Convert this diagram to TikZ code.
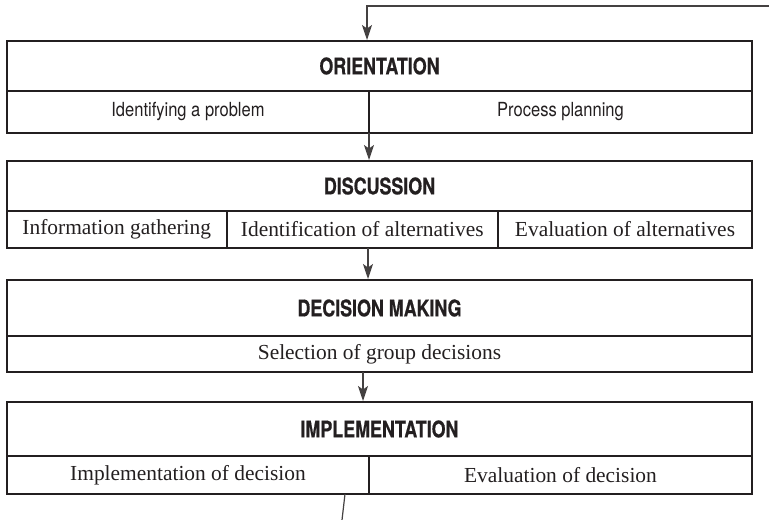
\documentclass[tikz,border=0pt]{standalone}
\usepackage{fontspec}
\setmainfont{Liberation Serif}
\newfontfamily\condsans{TeX Gyre Heros}[FakeStretch=0.78,BoldFeatures={FakeBold=0.6}]
\newfontfamily\narrowsans{TeX Gyre Heros}[FakeStretch=0.85]
\usetikzlibrary{arrows.meta}
\definecolor{ink}{HTML}{231F20}

\begin{document}
\begin{tikzpicture}[x=1bp,y=-1bp,
  box/.style={draw=ink,line width=2bp,inner sep=0pt,outer sep=0pt,text=ink},
  head/.style={box,minimum width=745bp,font=\condsans\bfseries\fontsize{23}{26}\selectfont},
  subsans/.style={box,font=\narrowsans\fontsize{19.5}{22}\selectfont},
  subserif/.style={box,font=\fontsize{21.5}{24}\selectfont},
  flow/.style={draw=ink!85,line width=1.2bp,shorten >=1bp,-{Stealth[length=15bp,width=10bp,inset=3.5bp]}},
  link/.style={draw=ink!85,line width=1.2bp}]
\useasboundingbox (0,0) rectangle (769,520);
% orientation
\node[head,minimum height=50bp] (orient) at (379.5,66) {ORIENTATION};
\node[subsans,minimum width=362bp,minimum height=42bp] (orientA) at (188,112) {Identifying a problem};
\node[subsans,minimum width=383bp,minimum height=42bp] (orientB) at (560.5,112) {Process planning};
% discussion
\node[head,minimum height=50bp] (disc) at (379.5,186) {DISCUSSION};
\node[subserif,minimum width=219.5bp,minimum height=37bp] (discA) at (116.75,229.5) {Information gathering};
\node[subserif,minimum width=271.5bp,minimum height=37bp] (discB) at (362.25,229.5) {Identification of alternatives};
\node[subserif,minimum width=254bp,minimum height=37bp] (discC) at (625,229.5) {Evaluation of alternatives};
% decision making
\node[head,minimum height=56bp] (dec) at (379.5,308) {DECISION MAKING};
\node[subserif,minimum width=745bp,minimum height=36bp] (decA) at (379.5,354) {Selection of group decisions};
% implementation
\node[head,minimum height=54bp] (imp) at (379.5,429) {IMPLEMENTATION};
\node[subserif,minimum width=362bp,minimum height=38bp] (impA) at (188,475) {Implementation of decision};
\node[subserif,minimum width=383bp,minimum height=38bp] (impB) at (560.5,475) {Evaluation of decision};
% arrows
\coordinate (fbR) at (769,6);
\coordinate (fbT) at ([xshift=-12.5bp]orient.north);
\coordinate (dd) at ([xshift=5.75bp]discB.south);
\coordinate (di) at ([xshift=-16.5bp]decA.south);
\coordinate (outT) at ([xshift=-24bp]impA.south east);
\coordinate (outB) at (342,520);
\draw[flow] (fbR) -| (fbT);
\draw[flow] (orientA.south east) -- (orientA.south east |- disc.north);
\draw[flow] (dd) -- (dd |- dec.north);
\draw[flow] (di) -- (di |- imp.north);
\draw[link] (outT) -- (outB);
\end{tikzpicture}
\end{document}
